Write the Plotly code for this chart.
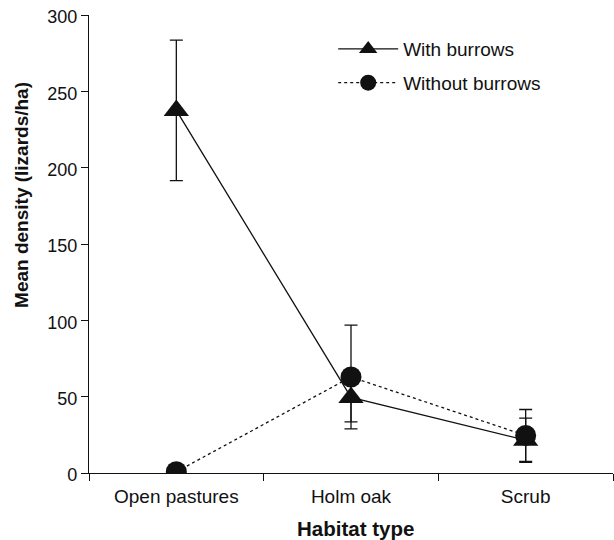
import plotly.graph_objects as go

categories = ["Open pastures", "Holm oak", "Scrub"]
with_burrows = [237.5, 49.5, 21.5]
with_burrows_err = [46, 16, 14.5]
without_burrows = [0.8, 62.9, 24.6]
without_burrows_err = [0, 34, 17]
y_ticks = [0, 50, 100, 150, 200, 250, 300]

FONT = "Liberation Sans, Arial, sans-serif"
INK = "#111111"

fig = go.Figure()
fig.add_trace(go.Scatter(
    x=[0, 1, 2], y=with_burrows, name="With burrows", mode="lines+markers",
    legendgroup="a",
    line=dict(color=INK, width=1.3, dash="solid"),
    marker=dict(symbol="triangle-up", size=22, color=INK),
    error_y=dict(type="data", array=with_burrows_err, visible=True, color=INK, thickness=1.3, width=6.5),
))
fig.add_trace(go.Scatter(
    x=[0, 1, 2], y=without_burrows, name="Without burrows", mode="lines+markers",
    legendgroup="b",
    line=dict(color=INK, width=1.3, dash="dot"),
    marker=dict(symbol="circle", size=21, color=INK),
    error_y=dict(type="data", array=without_burrows_err, visible=True, color=INK, thickness=1.3, width=6.5),
))

fig.update_layout(
    width=614, height=540,
    margin=dict(l=89, r=1, t=15, b=67),
    paper_bgcolor="white", plot_bgcolor="white",
    font=dict(family=FONT, size=19, color=INK),
    showlegend=True,
    legend=dict(x=0.466, y=0.967, xanchor="left", yanchor="top",
                bgcolor="rgba(0,0,0,0)", font=dict(size=19),
                itemwidth=60, traceorder="grouped", tracegroupgap=6),
    annotations=[
        dict(text="<b>Mean density (lizards/ha)</b>", xref="paper", yref="paper",
             x=-0.128, y=0.607, textangle=-90, showarrow=False,
             xanchor="center", yanchor="middle", font=dict(size=19)),
        dict(text="<b>Habitat type</b>", xref="paper", yref="paper",
             x=0.508, y=-0.121, showarrow=False,
             xanchor="center", yanchor="middle", font=dict(size=20.5)),
    ],
)
fig.update_xaxes(
    range=[-0.5, 2.5], tickmode="array", tickvals=[0, 1, 2], ticktext=categories,
    showgrid=False, zeroline=False, showline=True, linecolor=INK, linewidth=1.3,
    ticks="", automargin=False, ticklabelstandoff=6, ticklabeloverflow="allow",
    minor=dict(tickmode="array", tickvals=[-0.5, 0.5, 1.5, 2.5], ticks="outside",
               ticklen=7, tickcolor=INK, tickwidth=1.3),
)
fig.update_yaxes(
    range=[0, 300], tickmode="array", tickvals=y_ticks,
    showgrid=False, zeroline=False, showline=True, linecolor=INK, linewidth=1.3,
    ticks="outside", ticklen=7, tickcolor=INK, tickwidth=1.3, automargin=False,
    ticklabeloverflow="allow", ticklabelshift=2, tickfont=dict(size=18),
)

fig.write_html("out.html", config={"displayModeBar": False},
               post_script="document.body.style.margin='0';")
